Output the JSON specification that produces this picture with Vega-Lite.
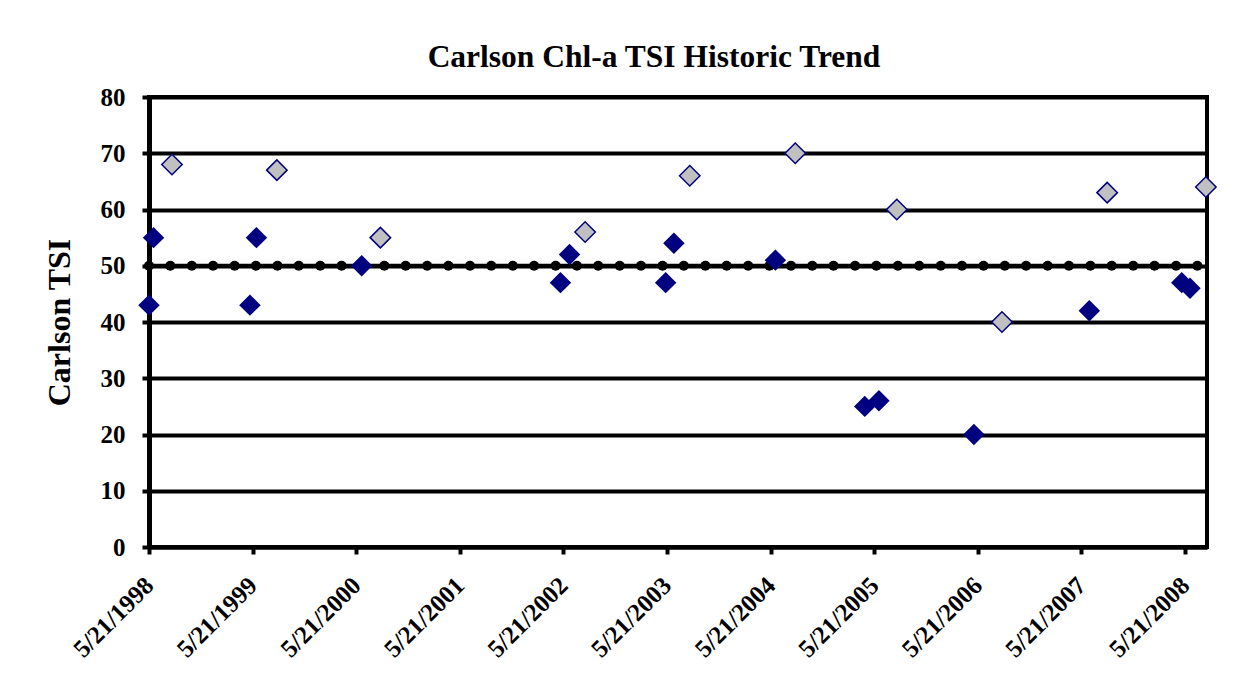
{
  "$schema": "https://vega.github.io/schema/vega-lite/v6.json",
  "autosize": {"type": "none"},
  "width": 1058,
  "height": 450,
  "padding": {"left": 149, "top": 97, "right": 50, "bottom": 145},
  "background": "white",
  "config": {
    "view": {"stroke": "black", "strokeWidth": 4},
    "axis": {
      "labelFont": "Liberation Serif",
      "labelFontWeight": "bold",
      "labelFontSize": 25,
      "labelColor": "black",
      "titleFont": "Liberation Serif",
      "titleFontWeight": "bold",
      "titleColor": "black",
      "domainColor": "black",
      "tickColor": "black"
    }
  },
  "title": {
    "text": "Carlson Chl-a TSI Historic Trend",
    "font": "Liberation Serif",
    "fontSize": 31.5,
    "fontWeight": "bold",
    "color": "black",
    "anchor": "middle",
    "dx": -24,
    "offset": 12
  },
  "datasets": {
    "ref": [
      {"date": "1998-05-21", "tsi": 50}, {"date": "1998-08-04", "tsi": 50}, {"date": "1998-10-19", "tsi": 50},
      {"date": "1999-01-02", "tsi": 50}, {"date": "1999-03-19", "tsi": 50}, {"date": "1999-06-02", "tsi": 50},
      {"date": "1999-08-17", "tsi": 50}, {"date": "1999-10-31", "tsi": 50}, {"date": "2000-01-15", "tsi": 50},
      {"date": "2000-03-30", "tsi": 50}, {"date": "2000-06-14", "tsi": 50}, {"date": "2000-08-28", "tsi": 50},
      {"date": "2000-11-11", "tsi": 50}, {"date": "2001-01-26", "tsi": 50}, {"date": "2001-04-11", "tsi": 50},
      {"date": "2001-06-26", "tsi": 50}, {"date": "2001-09-09", "tsi": 50}, {"date": "2001-11-24", "tsi": 50},
      {"date": "2002-02-07", "tsi": 50}, {"date": "2002-04-24", "tsi": 50}, {"date": "2002-07-08", "tsi": 50},
      {"date": "2002-09-21", "tsi": 50}, {"date": "2002-12-06", "tsi": 50}, {"date": "2003-02-19", "tsi": 50},
      {"date": "2003-05-06", "tsi": 50}, {"date": "2003-07-20", "tsi": 50}, {"date": "2003-10-04", "tsi": 50},
      {"date": "2003-12-18", "tsi": 50}, {"date": "2004-03-03", "tsi": 50}, {"date": "2004-05-17", "tsi": 50},
      {"date": "2004-08-01", "tsi": 50}, {"date": "2004-10-15", "tsi": 50}, {"date": "2004-12-29", "tsi": 50},
      {"date": "2005-03-15", "tsi": 50}, {"date": "2005-05-29", "tsi": 50}, {"date": "2005-08-13", "tsi": 50},
      {"date": "2005-10-27", "tsi": 50}, {"date": "2006-01-11", "tsi": 50}, {"date": "2006-03-27", "tsi": 50},
      {"date": "2006-06-11", "tsi": 50}, {"date": "2006-08-25", "tsi": 50}, {"date": "2006-11-08", "tsi": 50},
      {"date": "2007-01-23", "tsi": 50}, {"date": "2007-04-08", "tsi": 50}, {"date": "2007-06-23", "tsi": 50},
      {"date": "2007-09-06", "tsi": 50}, {"date": "2007-11-21", "tsi": 50}, {"date": "2008-02-04", "tsi": 50},
      {"date": "2008-04-20", "tsi": 50}, {"date": "2008-07-04", "tsi": 50}
    ],
    "spring": [
      {"date": "1998-05-21", "tsi": 43}, {"date": "1998-06-06", "tsi": 55},
      {"date": "1999-05-12", "tsi": 43}, {"date": "1999-06-04", "tsi": 55},
      {"date": "2000-06-09", "tsi": 50},
      {"date": "2002-05-11", "tsi": 47}, {"date": "2002-06-12", "tsi": 52},
      {"date": "2003-05-17", "tsi": 47}, {"date": "2003-06-15", "tsi": 54},
      {"date": "2004-06-07", "tsi": 51},
      {"date": "2005-04-18", "tsi": 25}, {"date": "2005-06-07", "tsi": 26},
      {"date": "2006-05-08", "tsi": 20},
      {"date": "2007-06-19", "tsi": 42},
      {"date": "2008-05-10", "tsi": 47}, {"date": "2008-06-08", "tsi": 46}
    ],
    "summer": [
      {"date": "1998-08-10", "tsi": 68}, {"date": "1999-08-15", "tsi": 67},
      {"date": "2000-08-14", "tsi": 55}, {"date": "2002-08-06", "tsi": 56},
      {"date": "2003-08-10", "tsi": 66}, {"date": "2004-08-16", "tsi": 70},
      {"date": "2005-08-09", "tsi": 60}, {"date": "2006-08-15", "tsi": 40},
      {"date": "2007-08-21", "tsi": 63}, {"date": "2008-08-03", "tsi": 64}
    ]
  },
  "encoding": {
    "x": {
      "field": "date",
      "type": "temporal",
      "scale": {
        "type": "utc",
        "domain": [
          {"year": 1998, "month": 5, "date": 21, "utc": true},
          {"year": 2008, "month": 8, "date": 7, "utc": true}
        ],
        "nice": false
      },
      "axis": {
        "title": null,
        "grid": false,
        "labelExpr": "utcFormat(datum.value, '%-m/%-d/%Y')",
        "values": [
          {"year": 1998, "month": 5, "date": 21, "utc": true},
          {"year": 1999, "month": 5, "date": 21, "utc": true},
          {"year": 2000, "month": 5, "date": 21, "utc": true},
          {"year": 2001, "month": 5, "date": 21, "utc": true},
          {"year": 2002, "month": 5, "date": 21, "utc": true},
          {"year": 2003, "month": 5, "date": 21, "utc": true},
          {"year": 2004, "month": 5, "date": 21, "utc": true},
          {"year": 2005, "month": 5, "date": 21, "utc": true},
          {"year": 2006, "month": 5, "date": 21, "utc": true},
          {"year": 2007, "month": 5, "date": 21, "utc": true},
          {"year": 2008, "month": 5, "date": 21, "utc": true}
        ],
        "labelAngle": -45,
        "labelAlign": "right",
        "labelBaseline": "middle",
        "labelPadding": 27,
        "labelOverlap": false,
        "labelFlush": false,
        "domainWidth": 4,
        "tickWidth": 4,
        "tickSize": 7
      }
    },
    "y": {
      "field": "tsi",
      "type": "quantitative",
      "scale": {"domain": [0, 80], "nice": false, "zero": true},
      "axis": {
        "title": "Carlson TSI",
        "titleFontSize": 32,
        "titlePadding": 24,
        "values": [0, 10, 20, 30, 40, 50, 60, 70, 80],
        "grid": true,
        "gridColor": "black",
        "gridWidth": 4,
        "gridOpacity": 1,
        "domainWidth": 5,
        "tickWidth": 4,
        "tickSize": 7,
        "labelPadding": 17,
        "labelFlush": false
      }
    }
  },
  "layer": [
    {
      "data": {"name": "ref"},
      "mark": {"type": "line", "color": "black", "strokeWidth": 4}
    },
    {
      "data": {"name": "ref"},
      "mark": {"type": "circle", "color": "black", "size": 100, "opacity": 1}
    },
    {
      "data": {"name": "spring"},
      "mark": {"type": "point", "shape": "diamond", "filled": true, "color": "#000080", "size": 460, "opacity": 1}
    },
    {
      "data": {"name": "summer"},
      "mark": {"type": "point", "shape": "diamond", "filled": true, "fill": "#C0C0C0", "stroke": "#000080", "strokeWidth": 1.5, "size": 420, "opacity": 1}
    }
  ]
}
